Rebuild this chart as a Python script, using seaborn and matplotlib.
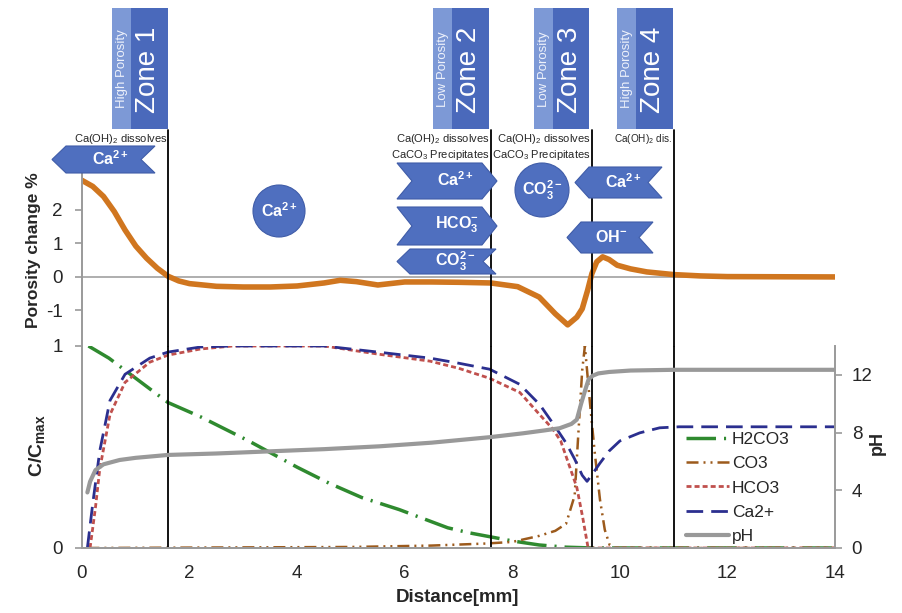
import matplotlib
matplotlib.use("Agg")
import matplotlib.pyplot as plt
import seaborn as sns
from matplotlib.patches import Polygon, Rectangle, Ellipse
from matplotlib.lines import Line2D

# ---------------- data ----------------
por_x = [0.0, 0.2, 0.4, 0.6, 0.8, 1.0, 1.2, 1.4, 1.6, 1.8, 2.0, 2.5, 3.0, 3.5, 4.0, 4.5, 4.8,
         5.1, 5.5, 6.0, 6.5, 7.0, 7.6, 8.1, 8.5, 8.8, 9.03, 9.2, 9.3, 9.4, 9.48, 9.57, 9.68,
         9.8, 9.95, 10.2, 10.5, 11.0, 11.5, 12.0, 14.0]
por_y = [2.88, 2.7, 2.4, 1.95, 1.4, 0.92, 0.56, 0.26, 0.02, -0.12, -0.2, -0.28, -0.3, -0.3,
         -0.27, -0.18, -0.1, -0.14, -0.24, -0.15, -0.15, -0.16, -0.18, -0.29, -0.6, -1.1,
         -1.43, -1.2, -0.95, -0.4, 0.1, 0.45, 0.6, 0.52, 0.35, 0.24, 0.15, 0.07, 0.03, 0.01, 0.0]

h2co3_x = [0.12, 0.5, 1.0, 1.6, 2.2, 3.1, 4.0, 4.6, 5.2, 5.9, 6.4, 6.8, 7.2, 7.6, 8.0, 8.5,
           9.0, 9.5, 14.0]
h2co3_y = [1.0, 0.94, 0.84, 0.72, 0.65, 0.53, 0.40, 0.32, 0.25, 0.19, 0.14, 0.10, 0.075,
           0.055, 0.035, 0.015, 0.004, 0.0, 0.0]

co3_x = [0.1, 5.0, 6.5, 7.5, 8.0, 8.5, 8.8, 9.0, 9.16, 9.22, 9.3, 9.35, 9.44, 9.53, 9.63,
         9.72, 9.81, 9.9, 14.0]
co3_y = [0.0, 0.005, 0.012, 0.022, 0.03, 0.06, 0.085, 0.12, 0.26, 0.53, 0.88, 1.0, 0.73,
         0.48, 0.24, 0.09, 0.015, 0.0, 0.0]

hco3_x = [0.15, 0.25, 0.33, 0.52, 0.8, 1.26, 1.6, 2.2, 2.8, 4.5, 5.5, 6.47, 7.0, 7.58, 8.14,
          8.51, 8.75, 8.9, 9.07, 9.2, 9.31, 9.41, 14.0]
hco3_y = [0.0, 0.2, 0.39, 0.66, 0.82, 0.92, 0.955, 0.985, 1.0, 1.0, 0.96, 0.925, 0.89, 0.84,
          0.77, 0.66, 0.59, 0.53, 0.40, 0.30, 0.15, 0.0, 0.0]

ca_x = [0.1, 0.2, 0.33, 0.52, 0.8, 1.26, 1.6, 2.2, 2.8, 4.5, 5.5, 6.47, 7.0, 7.58, 8.14, 8.51,
        8.8, 9.0, 9.16, 9.3, 9.39, 9.5, 9.63, 9.8, 10.0, 10.37, 10.74, 11.1, 14.0]
ca_y = [0.0, 0.22, 0.48, 0.73, 0.86, 0.94, 0.97, 0.995, 1.0, 1.0, 0.97, 0.94, 0.915, 0.885,
        0.81, 0.71, 0.6, 0.52, 0.44, 0.36, 0.33, 0.37, 0.42, 0.48, 0.53, 0.57, 0.595, 0.6, 0.6]

ph_x = [0.1, 0.15, 0.25, 0.4, 0.7, 1.0, 1.6, 2.5, 3.5, 4.5, 5.54, 6.5, 7.58, 8.2, 8.6, 8.88,
        9.1, 9.2, 9.28, 9.36, 9.42, 9.5, 9.6, 9.8, 10.2, 11.0, 14.0]
ph_y = [3.85, 4.6, 5.4, 5.8, 6.1, 6.25, 6.45, 6.55, 6.7, 6.85, 7.05, 7.3, 7.68, 7.95, 8.15,
        8.3, 8.6, 8.9, 10.0, 11.0, 11.7, 11.95, 12.1, 12.2, 12.3, 12.35, 12.35]

zone_bounds = [1.6, 7.6, 9.48, 11.0]
zone_names = ["Zone 1", "Zone 2", "Zone 3", "Zone 4"]
zone_porosity = ["High Porosity", "Low Porosity", "Low Porosity", "High Porosity"]
x_ticks = [0, 2, 4, 6, 8, 10, 12, 14]
ph_ticks = [0, 4, 8, 12]
por_ticks = [-1, 0, 1, 2]
conc_ticks = [0, 1]
legend_labels = ["H2CO3", "CO3", "HCO3", "Ca2+", "pH"]

# ---------------- style ----------------
sns.set_style("white")
plt.rcParams["font.family"] = ["Liberation Sans", "DejaVu Sans"]
plt.rcParams["mathtext.fontset"] = "custom"
plt.rcParams["mathtext.rm"] = "Liberation Sans"
plt.rcParams["mathtext.it"] = "Liberation Sans:italic"
plt.rcParams["mathtext.bf"] = "Liberation Sans:bold"
plt.rcParams["axes.unicode_minus"] = False

GRAY = "#9a9a9a"
C_GREEN = "#2f8a2f"
C_BROWN = "#9c5a1c"
C_RED = "#c0504d"
C_BLUE = "#2b2f8f"
C_PH = "#999999"
C_ORANGE = "#d0761f"
BOX_DARK = "#4a69bb"
BOX_LIGHT = "#7d99d6"

W, H = 903, 613
fig = plt.figure(figsize=(W / 100, H / 100), dpi=100)


def fx(px):
    return px / W


def fy(py):
    return 1 - py / H


L, R = 82, 835
ax = fig.add_axes([fx(L), fy(548), (R - L) / W, (548 - 346) / H])
axt = fig.add_axes([fx(L), fy(346), (R - L) / W, (346 - 173) / H])
ax2 = ax.twinx()

# ---------------- lines ----------------
st_green = dict(color=C_GREEN, lw=2.5, linestyle=(0, (8.5, 2.3, 0.6, 2.3)))
st_brown = dict(color=C_BROWN, lw=1.8, linestyle=(0, (4.8, 2, 0.8, 2, 0.8, 2)))
st_red = dict(color=C_RED, lw=2.0, linestyle=(0, (1.8, 1.1)))
st_blue = dict(color=C_BLUE, lw=2.0, linestyle=(0, (6, 2.9)))
st_ph = dict(color=C_PH, lw=3.0, linestyle="-")

sns.lineplot(x=h2co3_x, y=h2co3_y, ax=ax, **st_green)
sns.lineplot(x=co3_x, y=co3_y, ax=ax, **st_brown)
sns.lineplot(x=hco3_x, y=hco3_y, ax=ax, **st_red)
sns.lineplot(x=ca_x, y=ca_y, ax=ax, **st_blue)
sns.lineplot(x=ph_x, y=ph_y, ax=ax2, **st_ph)
sns.lineplot(x=por_x, y=por_y, ax=axt, color=C_ORANGE, lw=4)

for a in (ax, ax2, axt):
    a.set_xlim(0, 14)
    a.set_xlabel("")
    a.set_ylabel("")
    lg = a.get_legend()
    if lg is not None:
        lg.remove()

ax.set_ylim(0, 1)
ax2.set_ylim(0, 14)
axt.set_ylim(-2.06, 3.10)

# ticks & spines
ax.set_xticks(x_ticks)
ax.set_yticks(conc_ticks)
ax2.set_yticks(ph_ticks)
axt.set_yticks(por_ticks)
axt.set_xticks([])

ax.tick_params(axis="x", length=0, pad=12, labelsize=13.5)
ax.tick_params(axis="y", left=True, length=5, width=1.2, color=GRAY, pad=9, labelsize=13.5)
ax2.tick_params(axis="y", right=True, length=5, width=1.2, color=GRAY, pad=7, labelsize=13.5)
axt.tick_params(axis="y", left=True, length=5, width=1.2, color=GRAY, pad=9, labelsize=13.5)

for a in (ax, ax2):
    a.spines["top"].set_visible(False)
    for s in ("left", "right", "bottom"):
        a.spines[s].set_color(GRAY)
        a.spines[s].set_linewidth(1.4)
ax2.spines["left"].set_visible(False)
ax.spines["right"].set_visible(False)
for s in ("top", "right", "bottom"):
    axt.spines[s].set_visible(False)
axt.spines["left"].set_color(GRAY)
axt.spines["left"].set_linewidth(1.4)
axt.patch.set_alpha(0)

axt.axhline(0, color="#a8a8a8", lw=1.3, zorder=1)

# zone boundary lines
ext = (346 - 130) / (346 - 173)
for b in zone_bounds:
    ax.axvline(b, color="black", lw=1.3, zorder=5)
    axt.axvline(b, ymin=0, ymax=ext, color="black", lw=1.3, clip_on=False, zorder=5)

# axis labels
fig.text(fx(34), fy(250), "Porosity change %", rotation=90, ha="center", va="center",
         fontsize=12.5, fontweight="bold")
fig.text(fx(37), fy(446), r"$\mathbf{C/C_{max}}$", rotation=90, ha="center", va="center",
         fontsize=14)
fig.text(fx(877), fy(443), "pH", rotation=90, ha="center", va="center",
         fontsize=13, fontweight="bold")
fig.text(fx(457), fy(597), "Distance[mm]", ha="center", va="center",
         fontsize=13.5, fontweight="bold")

# legend
handles = [Line2D([], [], **st_green), Line2D([], [], **st_brown), Line2D([], [], **st_red),
           Line2D([], [], **st_blue), Line2D([], [], **st_ph)]
fig.legend(handles, legend_labels, loc="upper left", bbox_to_anchor=(fx(686), fy(432)),
           frameon=False, fontsize=12.5, handlelength=2.5, handletextpad=0.15,
           labelspacing=0.52, borderpad=0, borderaxespad=0)

# ---------------- zone boxes ----------------
box_px = [(112, 131, 168), (433, 452, 489), (534, 553, 589), (617, 636, 673)]
for (x0, xm, x1), name, por in zip(box_px, zone_names, zone_porosity):
    fig.add_artist(Rectangle((fx(x0), fy(129)), (xm - x0) / W, (129 - 8) / H,
                             transform=fig.transFigure, facecolor=BOX_LIGHT, edgecolor="none"))
    fig.add_artist(Rectangle((fx(xm), fy(129)), (x1 - xm) / W, (129 - 8) / H,
                             transform=fig.transFigure, facecolor=BOX_DARK, edgecolor="none"))
    fig.text(fx((x0 + xm) / 2 + 0.5), fy(69), por, rotation=90, ha="center", va="center",
             fontsize=9.5, color="#eef2fb")
    fig.text(fx((xm + x1) / 2 - 1), fy(70), name, rotation=90, ha="center", va="center",
             fontsize=20, color="white")

# annotations above lines
fig.text(fx(167), fy(139), r"Ca(OH)$_\mathregular{2}$ dissolves", ha="right", va="center",
         fontsize=8)
for xr in (489, 590):
    fig.text(fx(xr), fy(139), r"Ca(OH)$_\mathregular{2}$ dissolves", ha="right", va="center",
             fontsize=8)
    fig.text(fx(xr), fy(155), r"CaCO$_\mathregular{3}$ Precipitates", ha="right",
             va="center", fontsize=8)
fig.text(fx(672), fy(139), r"Ca(OH)$_\mathregular{2}$ dis.", ha="right", va="center",
         fontsize=7.2)


# ---------------- chevron arrows ----------------
def left_chev(tip, right, top, bot, d=14):
    mid = (top + bot) / 2
    pts = [(tip, mid), (tip + d, top), (right, top), (right - d, mid), (right, bot), (tip + d, bot)]
    return [(fx(a), fy(b)) for a, b in pts]


def right_chev(left, tip, top, bot, d=15):
    mid = (top + bot) / 2
    pts = [(left, top), (tip - d, top), (tip, mid), (tip - d, bot), (left, bot), (left + d, mid)]
    return [(fx(a), fy(b)) for a, b in pts]


arrows = [
    (left_chev(52, 155, 146, 173), r"$\mathbf{Ca^{2+}}$", (110, 159)),
    (right_chev(397, 497, 163, 199), r"$\mathbf{Ca^{2+}}$", (455, 180)),
    (right_chev(397, 497, 207, 245), r"$\mathbf{HCO_3^{-}}$", (457, 225)),
    (left_chev(397, 496, 249, 274, d=13), r"$\mathbf{CO_3^{2-}}$", (455, 261)),
    (left_chev(575, 662, 167, 198), r"$\mathbf{Ca^{2+}}$", (623, 182)),
    (left_chev(567, 653, 222, 253), r"$\mathbf{OH^{-}}$", (611, 237)),
]
for pts, txt, (tx, ty) in arrows:
    fig.add_artist(Polygon(pts, closed=True, transform=fig.transFigure,
                           facecolor="#4f6fbf", edgecolor="#3f5ca8", lw=0.8))
    fig.text(fx(tx), fy(ty), txt, ha="center", va="center", fontsize=11.5, color="white")

circles = [((279, 211), 26, r"$\mathbf{Ca^{2+}}$"), ((542, 190), 27, r"$\mathbf{CO_3^{2-}}$")]
for (cx, cy), r, txt in circles:
    fig.add_artist(Ellipse((fx(cx), fy(cy)), 2 * r / W, 2 * r / H, transform=fig.transFigure,
                           facecolor="#4f6fbf", edgecolor="#3f5ca8", lw=0.8))
    fig.text(fx(cx), fy(cy), txt, ha="center", va="center", fontsize=11.5, color="white")

fig.savefig("out.png", dpi=100)
